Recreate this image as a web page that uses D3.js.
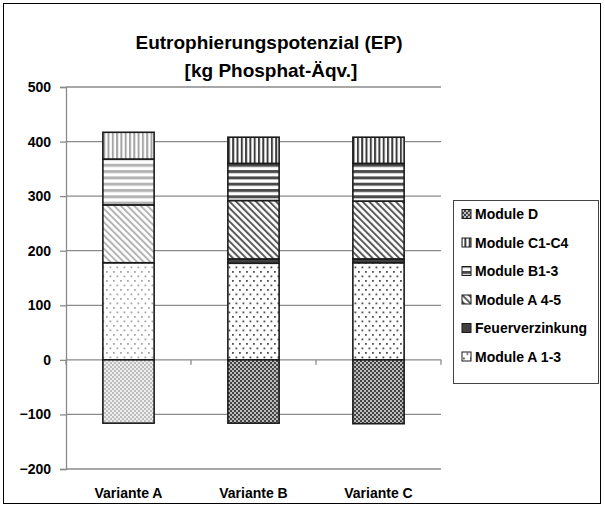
<!DOCTYPE html>
<html>
<head>
<meta charset="utf-8">
<script src="https://cdn.jsdelivr.net/npm/d3@7"></script>
<style>
  html, body { margin: 0; padding: 0; background: #fff; }
  svg { display: block; font-family: "Liberation Sans", Arial, sans-serif; }
</style>
</head>
<body>
<svg id="chart" width="605" height="508"></svg>
<script>
// Eutrophication potential per life-cycle module, three variants
const categories = ["Variante A", "Variante B", "Variante C"];
const moduleA13 = [178, 177, 178];
const feuerverzinkung = [0, 8, 7];
const moduleA45 = [106, 107, 106];
const moduleB13 = [84, 68, 69];
const moduleC14 = [49, 48, 48];
const moduleD = [-116, -116, -117];
const yTicks = [-200, -100, 0, 100, 200, 300, 400, 500];

const seriesKeys = ["A13", "FV", "A45", "B13", "C14", "D"];
const seriesNames = {
  A13: "Module A 1-3", FV: "Feuerverzinkung", A45: "Module A 4-5",
  B13: "Module B1-3", C14: "Module C1-C4", D: "Module D"
};
const legendOrder = ["D", "C14", "B13", "A45", "FV", "A13"];

const rows = categories.map((c, i) => ({
  cat: c, A13: moduleA13[i], FV: feuerverzinkung[i], A45: moduleA45[i],
  B13: moduleB13[i], C14: moduleC14[i], D: moduleD[i]
}));

const svg = d3.select("#chart");
const defs = svg.append("defs");

// Hatch patterns: a light tone (first variant) and a dark tone (others)
const tones = {
  light: { dot: "#a8a8a8", hatch: "#b4b4b4", hz: "#b4b4b4", vt: "#a4a4a4", chkA: "#bdbdbd", chkB: "#eeeeee", solid: "#909090" },
  dark:  { dot: "#505050", hatch: "#5a5a5a", hz: "#4a4a4a", vt: "#3c3c3c", chkA: "#444444", chkB: "#bcbcbc", solid: "#404040" }
};

function makePatterns(tone, t) {
  // dots
  let p = defs.append("pattern").attr("id", `A13-${tone}`)
    .attr("patternUnits", "userSpaceOnUse").attr("width", 7).attr("height", 9);
  p.append("rect").attr("width", 7).attr("height", 9).attr("fill", "#fff");
  p.append("rect").attr("x", 1).attr("y", 1).attr("width", 1.8).attr("height", 1.8).attr("fill", t.dot);
  p.append("rect").attr("x", 4.5).attr("y", 5.5).attr("width", 1.8).attr("height", 1.8).attr("fill", t.dot);
  // solid
  p = defs.append("pattern").attr("id", `FV-${tone}`)
    .attr("patternUnits", "userSpaceOnUse").attr("width", 4).attr("height", 4);
  p.append("rect").attr("width", 4).attr("height", 4).attr("fill", t.solid);
  // downward diagonal
  p = defs.append("pattern").attr("id", `A45-${tone}`)
    .attr("patternUnits", "userSpaceOnUse").attr("width", 4.7).attr("height", 4.7)
    .attr("patternTransform", "rotate(-45)");
  p.append("rect").attr("width", 4.7).attr("height", 4.7).attr("fill", "#fff");
  p.append("rect").attr("x", 0).attr("width", 2).attr("height", 4.7).attr("fill", t.hatch);
  // horizontal stripes
  p = defs.append("pattern").attr("id", `B13-${tone}`)
    .attr("patternUnits", "userSpaceOnUse").attr("width", 6).attr("height", 6.3);
  p.append("rect").attr("width", 6).attr("height", 6.3).attr("fill", "#fff");
  p.append("rect").attr("y", 0).attr("width", 6).attr("height", 3).attr("fill", t.hz);
  // vertical stripes
  p = defs.append("pattern").attr("id", `C14-${tone}`)
    .attr("patternUnits", "userSpaceOnUse").attr("width", 4.3).attr("height", 6);
  p.append("rect").attr("width", 4.3).attr("height", 6).attr("fill", "#fff");
  p.append("rect").attr("x", 0).attr("width", 2).attr("height", 6).attr("fill", t.vt);
  // small checkerboard
  p = defs.append("pattern").attr("id", `D-${tone}`)
    .attr("patternUnits", "userSpaceOnUse").attr("width", 4).attr("height", 4);
  p.append("rect").attr("width", 4).attr("height", 4).attr("fill", t.chkB);
  p.append("rect").attr("width", 2).attr("height", 2).attr("fill", t.chkA);
  p.append("rect").attr("x", 2).attr("y", 2).attr("width", 2).attr("height", 2).attr("fill", t.chkA);
}
makePatterns("light", tones.light);
makePatterns("dark", tones.dark);

// outer frame
svg.append("rect").attr("x", 3.5).attr("y", 3.5).attr("width", 597).attr("height", 500)
  .attr("fill", "#fff").attr("stroke", "#000").attr("stroke-width", 1);

// title
const title = svg.append("text").attr("text-anchor", "middle")
  .attr("font-weight", "bold").attr("font-size", 19).attr("fill", "#000");
title.append("tspan").attr("x", 269).attr("y", 49).text("Eutrophierungspotenzial (EP)");
title.append("tspan").attr("x", 271).attr("y", 77).text("[kg Phosphat-Äqv.]");

const y = d3.scaleLinear().domain([-200, 500]).range([469, 87]);
const x = d3.scaleBand().domain(categories).range([66, 441])
  .paddingInner(0.59).paddingOuter(0.295);

// gridlines
svg.append("g").selectAll("line").data(yTicks).join("line")
  .attr("x1", 66).attr("x2", 441)
  .attr("y1", d => y(d)).attr("y2", d => y(d))
  .attr("stroke", "#8a8a8a").attr("stroke-width", 1.3);

// y axis
const yAxis = d3.axisLeft(y).tickValues(yTicks).tickSize(6).tickPadding(9);
const gy = svg.append("g").attr("transform", "translate(66,0)").call(yAxis);
gy.select(".domain").attr("stroke", "#8a8a8a").attr("stroke-width", 1.3);
gy.selectAll(".tick line").attr("stroke", "#8a8a8a").attr("stroke-width", 1.3);
gy.selectAll(".tick text").attr("font-family", "Liberation Sans, Arial, sans-serif")
  .attr("font-size", 14).attr("font-weight", "bold").attr("fill", "#000");

// category ticks on the zero line
const step = x.step();
svg.append("g").selectAll("line").data(d3.range(0, categories.length + 1)).join("line")
  .attr("x1", i => 66 + i * step).attr("x2", i => 66 + i * step)
  .attr("y1", y(0)).attr("y2", y(0) + 5)
  .attr("stroke", "#8a8a8a").attr("stroke-width", 1.3);

// category labels
svg.append("g").selectAll("text").data(categories).join("text")
  .attr("x", d => x(d) + x.bandwidth() / 2).attr("y", 498)
  .attr("text-anchor", "middle").attr("font-size", 14).attr("font-weight", "bold")
  .text(d => d);

// stacked bars
const stack = d3.stack().keys(seriesKeys).offset(d3.stackOffsetDiverging);
const stacked = stack(rows);
const gBars = svg.append("g");
stacked.forEach(layer => {
  gBars.append("g").selectAll("rect")
    .data(layer.filter(d => d[1] !== d[0]))
    .join("rect")
    .attr("x", d => x(d.data.cat))
    .attr("width", x.bandwidth())
    .attr("y", d => y(Math.max(d[0], d[1])))
    .attr("height", d => Math.abs(y(d[0]) - y(d[1])))
    .attr("fill", d => `url(#${layer.key}-${d.data.cat === categories[0] ? "light" : "dark"})`)
    .attr("stroke", "#1a1a1a").attr("stroke-width", 1.6);
});

// legend
const legend = svg.append("g");
legend.append("rect").attr("x", 453.5).attr("y", 200.5).attr("width", 145).attr("height", 183)
  .attr("fill", "#fff").attr("stroke", "#444").attr("stroke-width", 1);
const li = legend.selectAll("g.item").data(legendOrder).join("g").attr("class", "item")
  .attr("transform", (d, i) => `translate(0,${214 + i * 28.5})`);
li.append("rect").attr("x", 462).attr("y", -4.5).attr("width", 9).attr("height", 9)
  .attr("fill", d => `url(#${d}-dark)`).attr("stroke", "#1a1a1a").attr("stroke-width", 1);
li.append("text").attr("x", 475).attr("y", 5)
  .attr("font-size", 14).attr("font-weight", "bold").text(d => seriesNames[d]);
</script>
</body>
</html>
